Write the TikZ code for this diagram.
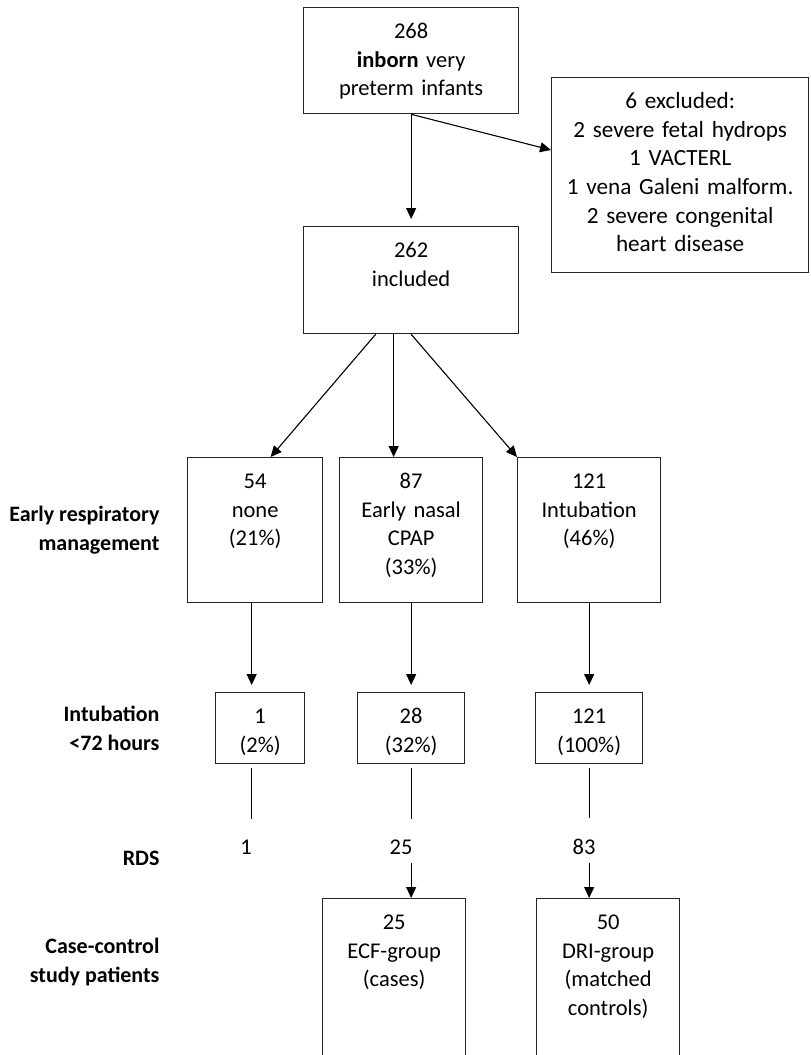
\documentclass[tikz,border=0pt]{standalone}
\usepackage{fontspec}
\setmainfont{Carlito}
\usetikzlibrary{arrows.meta,positioning,calc}

\tikzset{
  box/.style 2 args={draw=black!85, line width=1.3pt, text width=#1, text height=31pt, text depth=#2,
    align=center, inner sep=0pt, anchor=north west},
  lab/.style={font=\fontsize{22}{28.5}\selectfont\bfseries, align=right, inner sep=0pt},
  num/.style={inner sep=0pt, anchor=base}
}

\begin{document}
\begin{tikzpicture}[x=1pt, y=-1pt, ->, >={Triangle[length=11pt,width=10pt]}, line width=1.1pt,
  font=\fontsize{22.5}{28.5}\selectfont]
\useasboundingbox (0,0) rectangle (811,1055);
\clip (0,0) rectangle (811,1055);

% boxes
\node[box={215pt}{75pt}]  (born)  at (303,7)   {268\\{\bfseries inborn} very\\preterm infants};
\node[box={257pt}{164pt}, font=\fontsize{23.2}{28.6}\selectfont] (excl) at (551,77)
  {6 excluded:\\2 severe fetal hydrops\\1 VACTERL\\1 vena Galeni malform.\\2 severe congenital\\heart disease};
\node[box={215pt}{76pt}]  (incl)  at (303,226) {262\\included};
\node[box={135pt}{114pt}] (none)  at (187,457) {54\\none\\(21\%)};
\node[box={143pt}{114pt}] (cpap)  at (339,457) {87\\Early nasal\\CPAP\\(33\%)};
\node[box={143pt}{114pt}] (intu)  at (517,457) {121\\Intubation\\(46\%)};
\node[box={89pt}{40pt}]   (none2) at (215,692) {1\\(2\%)};
\node[box={107pt}{40pt}]  (cpap2) at (357,692) {28\\(32\%)};
\node[box={107pt}{40pt}]  (intu2) at (535,692) {121\\(100\%)};
\node[num] (rds1) at (246,854) {1};
\node[num] (rds2) at (401,854) {25};
\node[num] (rds3) at (584,854) {83};
\node[box={143pt}{144pt}] (ecf)   at (322,898) {25\\ECF-group\\(cases)};
\node[box={143pt}{144pt}] (dri)   at (536,898) {50\\DRI-group\\(matched\\controls)};

% row labels
\node[lab, left=27pt of none]  (lresp) {Early respiratory\\management};
\node[lab, left=55pt of none2] (lintu) {Intubation\\<72 hours};
\node[lab, anchor=east] (lrds)  at (160,858) {RDS};
\node[lab, anchor=east] (lcase) at (160,962) {Case-control\\study patients};

% connectors
\draw[shorten >=7pt] (born) -- (incl);
\draw (born.south) -- ($(excl.north west)+(0,73)$);
\draw ($(incl.south)+(-35.5,0)$) -- ($(none.north)+(15.5,0)$);
\draw ($(incl.south)+(-17.5,0)$) -- ($(cpap.north)+(-17.5,0)$);
\draw (incl.south) -- (intu.north west);
\draw[shorten >=7pt] ($(none.south)+(-3.5,0)$) -- ($(none.south |- none2.north)+(-3.5,0)$);
\draw[shorten >=7pt] (cpap) -- (cpap2);
\draw[shorten >=7pt] (intu) -- (intu2);
\draw[-, shorten <=4pt, shorten >=20pt] ($(none2.south)+(-8.5,0)$) -- ($(none2.south |- rds1.north)+(-8.5,0)$);
\draw[-, shorten <=4pt, shorten >=20pt] (cpap2.south) -- (cpap2.south |- rds2.north);
\draw[-, shorten <=4pt, shorten >=20pt] (intu2.south) -- (intu2.south |- rds3.north);
\draw[shorten <=8pt] (cpap2.south |- rds2.south) -- (cpap2.south |- ecf.north);
\draw[shorten <=8pt] (intu2.south |- rds3.south) -- (intu2.south |- dri.north);
\end{tikzpicture}
\end{document}
